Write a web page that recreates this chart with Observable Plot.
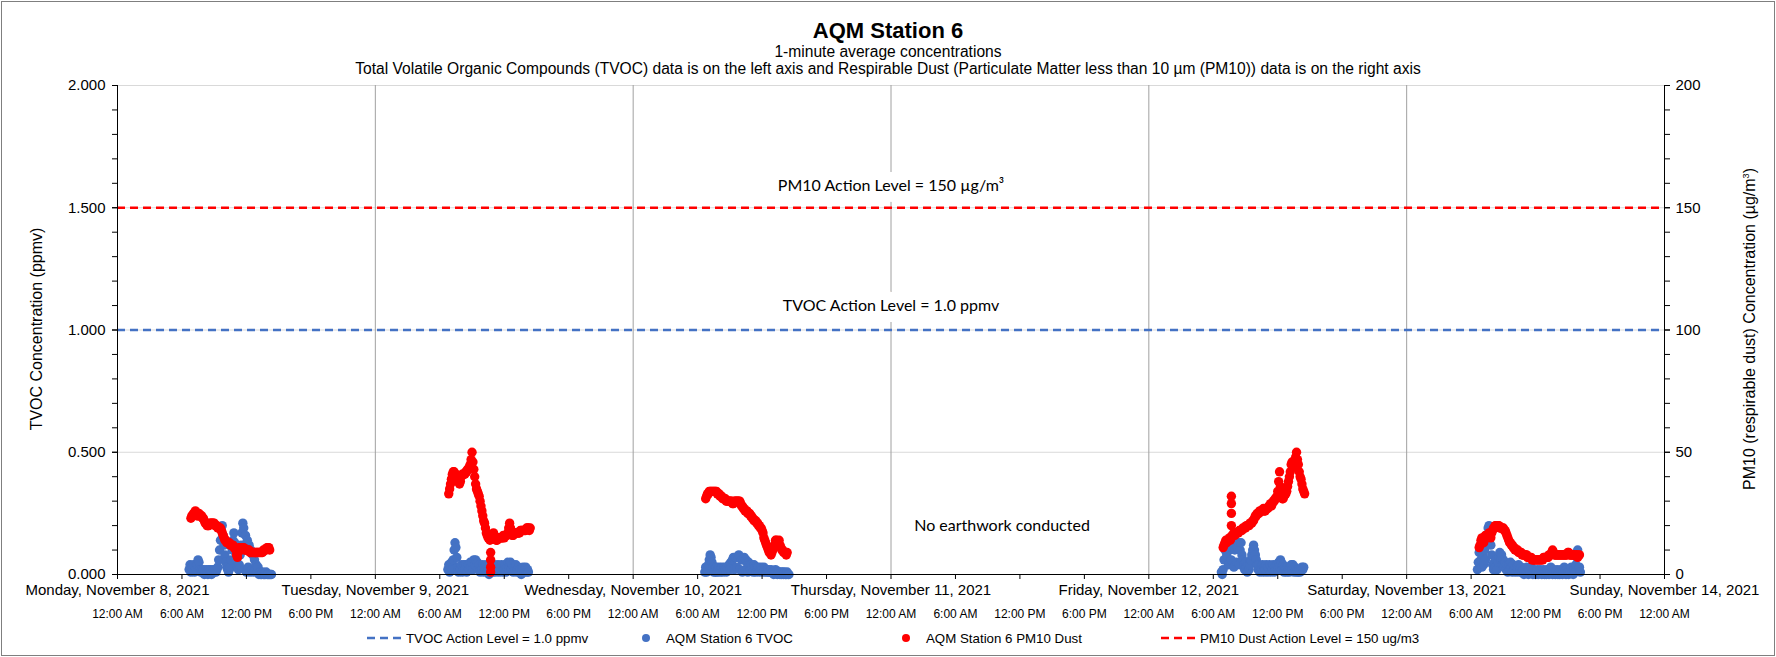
<!DOCTYPE html>
<html>
<head>
<meta charset="utf-8">
<script src="https://cdn.jsdelivr.net/npm/d3@7"></script>
<script src="https://cdn.jsdelivr.net/npm/@observablehq/plot@0.6"></script>
<style>
  html, body { margin: 0; padding: 0; background: #fff; }
  #wrap { position: relative; width: 1776px; height: 657px; overflow: hidden; font-family: "Liberation Sans", Arial, sans-serif; color: #000; }
  #frame { position: absolute; left: 1px; top: 1px; width: 1772px; height: 653px; border: 1px solid #7f7f7f; pointer-events: none; }
  #plot { position: absolute; left: 0; top: 0; }
  .title { position: absolute; left: 0; width: 1776px; text-align: center; white-space: nowrap; }
  #t1 { top: 19px; font-size: 22px; font-weight: bold; line-height: 24px; }
  #t2 { top: 43px; font-size: 15.6px; line-height: 18px; }
  #t3 { top: 60px; font-size: 15.6px; line-height: 18px; }
  .ytitle { position: absolute; white-space: nowrap; font-size: 16px; transform: translate(-50%, -50%) rotate(-90deg); }
  .leg { position: absolute; top: 630px; height: 16px; display: flex; align-items: center; font-size: 13.3px; white-space: nowrap; }
  .leg svg { display: block; }
</style>
</head>
<body>
<div id="wrap">
  <div id="plot"></div>
  <div class="title" id="t1">AQM Station 6</div>
  <div class="title" id="t2">1-minute average concentrations</div>
  <div class="title" id="t3">Total Volatile Organic Compounds (TVOC) data is on the left axis and Respirable Dust (Particulate Matter less than 10 µm (PM10)) data is on the right axis</div>
  <div class="ytitle" style="left:37px; top:329px;">TVOC Concentration (ppmv)</div>
  <div class="ytitle" style="left:1750px; top:329px;">PM10 (respirable dust) Concentration (µg/m<sup style="font-size:9px">3</sup>)</div>
  <div class="leg" style="left:366px;"><svg width="40" height="10"><line x1="1" x2="39" y1="5" y2="5" stroke="#4472c4" stroke-width="2.5" stroke-dasharray="8,5"/></svg><span>TVOC Action Level = 1.0 ppmv</span></div>
  <div class="leg" style="left:641px;"><svg width="25" height="10"><circle cx="5" cy="5" r="4" fill="#4472c4"/></svg><span>AQM Station 6 TVOC</span></div>
  <div class="leg" style="left:901px;"><svg width="25" height="10"><circle cx="5" cy="5" r="4" fill="#ff0000"/></svg><span>AQM Station 6 PM10 Dust</span></div>
  <div class="leg" style="left:1160px;"><svg width="40" height="10"><line x1="1" x2="39" y1="5" y2="5" stroke="#ff0000" stroke-width="2.5" stroke-dasharray="8,5"/></svg><span>PM10 Dust Action Level = 150 ug/m3</span></div>
  <div id="frame"></div>
</div>
<script>
// ---------------- data ----------------
const stepMinutes = 5;                       // sampling interval of the listed readings
const days = ["2021-11-08", "2021-11-09", "2021-11-10", "2021-11-12", "2021-11-13"];
const tvocStarts = ["06:40", "06:45", "06:40", "06:45", "06:35"];
const pm10Starts = ["06:50", "06:50", "06:45", "06:55", "06:45"];

// TVOC, ppmv
const tvocMon = [0.02,0.04,0.01,0.03,0.02,0.04,0.01,0.03,0.02,0.04,0.06,0.05,0.02,0.01,0.02,0.01,0.02,0.00,0.01,0.02,0.01,0.00,0.02,0.01,0.02,0.00,0.01,0.02,0.01,0.02,0.01,0.02,0.03,0.06,0.10,0.14,0.18,0.20,0.16,0.12,0.08,0.05,0.03,0.02,0.01,0.02,0.03,0.06,0.10,0.14,0.17,0.13,0.09,0.05,0.03,0.02,0.04,0.08,0.12,0.17,0.21,0.19,0.02,0.16,0.01,0.14,0.03,0.12,0.01,0.10,0.02,0.08,0.01,0.06,0.02,0.04,0.01,0.03,0.00,0.01,0.00,0.00,0.01,0.00,0.00,0.00,0.01,0.00,0.00,0.00,0.00,0.00,0.00];
const tvocTue = [0.02,0.04,0.01,0.03,0.05,0.02,0.06,0.10,0.13,0.11,0.07,0.03,0.01,0.03,0.02,0.04,0.01,0.03,0.04,0.02,0.04,0.01,0.03,0.04,0.02,0.05,0.03,0.05,0.02,0.06,0.04,0.06,0.03,0.05,0.02,0.04,0.01,0.03,0.02,0.04,0.01,0.03,0.02,0.04,0.01,0.02,0.00,0.02,0.01,0.03,0.01,0.02,0.04,0.01,0.03,0.02,0.04,0.01,0.03,0.02,0.04,0.01,0.03,0.02,0.04,0.01,0.03,0.05,0.02,0.04,0.05,0.02,0.04,0.01,0.03,0.02,0.04,0.01,0.02,0.03,0.01,0.02,0.00,0.02,0.03,0.01,0.02,0.03,0.01,0.02,0.01];
const tvocWed = [0.01,0.03,0.01,0.02,0.04,0.06,0.08,0.07,0.05,0.03,0.01,0.02,0.01,0.03,0.01,0.02,0.03,0.01,0.02,0.03,0.01,0.02,0.03,0.02,0.01,0.03,0.02,0.04,0.02,0.05,0.03,0.06,0.07,0.02,0.07,0.07,0.03,0.07,0.08,0.02,0.07,0.06,0.01,0.06,0.07,0.02,0.06,0.05,0.01,0.05,0.04,0.02,0.04,0.03,0.01,0.04,0.03,0.01,0.03,0.02,0.03,0.01,0.02,0.03,0.02,0.01,0.03,0.02,0.01,0.02,0.01,0.02,0.01,0.01,0.02,0.01,0.01,0.00,0.01,0.02,0.01,0.00,0.01,0.01,0.00,0.01,0.00,0.01,0.00,0.01,0.00,0.00,0.01,0.00,0.00];
const tvocFri = [0.01,0.00,0.02,0.06,0.10,0.12,0.08,0.12,0.04,0.10,0.12,0.06,0.11,0.13,0.03,0.10,0.12,0.05,0.11,0.13,0.04,0.10,0.13,0.08,0.06,0.04,0.02,0.05,0.03,0.01,0.04,0.02,0.04,0.06,0.08,0.10,0.12,0.10,0.08,0.06,0.04,0.02,0.04,0.01,0.03,0.02,0.04,0.01,0.03,0.02,0.04,0.01,0.03,0.02,0.04,0.01,0.03,0.02,0.04,0.01,0.03,0.02,0.04,0.02,0.05,0.03,0.06,0.05,0.02,0.04,0.01,0.03,0.02,0.01,0.03,0.02,0.01,0.03,0.04,0.02,0.04,0.01,0.03,0.02,0.01,0.02,0.01,0.02,0.01,0.02,0.03,0.02,0.03];
const tvocSat = [0.02,0.05,0.09,0.10,0.06,0.03,0.08,0.04,0.10,0.06,0.13,0.16,0.19,0.20,0.17,0.12,0.08,0.04,0.02,0.05,0.03,0.06,0.02,0.05,0.07,0.09,0.06,0.08,0.04,0.06,0.03,0.05,0.02,0.04,0.01,0.04,0.02,0.05,0.03,0.01,0.04,0.02,0.03,0.01,0.03,0.02,0.04,0.01,0.02,0.03,0.01,0.02,0.00,0.02,0.01,0.03,0.01,0.00,0.02,0.01,0.03,0.01,0.00,0.02,0.01,0.00,0.01,0.02,0.00,0.01,0.02,0.01,0.00,0.01,0.02,0.00,0.01,0.00,0.02,0.01,0.00,0.01,0.03,0.01,0.00,0.02,0.01,0.00,0.01,0.02,0.00,0.01,0.00,0.02,0.01,0.00,0.01,0.03,0.01,0.00,0.02,0.01,0.00,0.02,0.01,0.03,0.01,0.00,0.02,0.01,0.04,0.07,0.10,0.08,0.03,0.01];

// PM10, µg/m³
const pm10Mon = [23,24,24,25,25,26,25,24,24,25,24,24,24,23,23,22,21,21,20,20,20,21,21,21,21,21,21,20,20,20,19,19,19,19,18,17,16,15,14,14,13,13,13,13,12,12,12,12,11,11,10,8,7,9,11,11,11,11,11,11,10,10,10,10,10,10,9,9,9,9,9,9,9,9,9,9,9,9,9,9,9,10,10,10,10,11,11,11,10];
const pm10Tue = [33,35,37,39,41,42,42,41,41,40,39,38,37,38,40,41,41,41,41,42,42,43,43,44,45,47,50,46,43,40,37,35,34,33,32,30,28,26,24,22,21,19,17,16,15,15,14,15,15,16,17,16,15,14,14,15,15,15,15,15,15,16,15,16,16,16,17,19,21,19,17,16,16,17,17,17,17,17,17,17,18,18,18,18,18,18,18,19,19,19,18,19];
const pm10Wed = [31,32,33,33,34,34,34,34,34,34,34,34,34,33,33,33,32,32,32,31,31,31,31,30,30,30,30,30,30,30,29,29,30,30,30,30,30,30,30,29,28,28,27,27,26,26,26,25,25,25,24,24,23,23,22,22,22,21,21,20,20,19,19,18,17,15,14,13,12,11,10,9,9,8,9,10,11,12,14,14,13,13,14,12,11,10,10,9,9,9,8,9];
const pm10Fri = [11,12,13,14,13,14,14,15,14,15,16,16,17,16,17,17,17,17,18,18,18,18,19,19,19,19,20,20,20,20,21,21,21,22,22,23,24,24,25,25,25,26,26,26,26,27,26,26,27,27,27,28,28,29,28,29,30,30,31,31,32,34,38,42,36,32,31,31,32,33,33,34,36,38,40,42,45,46,44,44,46,48,50,47,45,42,40,39,37,35,34,33];
const pm10Sat = [11,12,14,15,14,13,15,16,16,15,16,17,16,15,17,18,19,19,20,20,20,20,20,19,19,19,19,19,18,18,17,16,15,14,13,13,12,12,11,11,10,10,10,10,9,9,9,9,8,8,8,8,8,8,7,7,7,7,7,6,6,6,6,6,6,6,6,6,6,6,6,6,7,7,7,7,7,7,8,8,8,9,10,9,8,8,8,8,8,8,8,8,8,8,8,8,8,8,8,9,9,8,8,8,8,8,8,8,8,8,7,8,8];
// isolated PM10 readings
const pm10Isolated = [["2021-11-09T10:44", 9], ["2021-11-09T10:44", 6], ["2021-11-09T10:44", 3], ["2021-11-09T10:44", 1],
                      ["2021-11-12T07:41", 32], ["2021-11-12T07:41", 29], ["2021-11-12T07:41", 25], ["2021-11-12T07:41", 20]];

const tvocActionLevel = 1.0;     // ppmv
const pm10ActionLevel = 150;     // µg/m³
const pm10PerTvocUnit = 100;     // right axis 0–200 vs left axis 0–2
const leftMajorTicks = [0, 0.5, 1.0, 1.5, 2.0];
const xStart = "2021-11-08T00:00";
const xEnd = "2021-11-14T00:00";
const noWorkDay = "2021-11-11T10:20";
const noWorkLevel = 0.2;

// ---------------- build ----------------
const asDate = s => new Date(s + ":00Z");
function rows(day, start, values) {
  const t0 = asDate(`${day}T${start}`);
  return values.map((v, i) => ({t: new Date(+t0 + i * stepMinutes * 60000), v}));
}
const tvocSeries = [tvocMon, tvocTue, tvocWed, tvocFri, tvocSat];
const pm10Series = [pm10Mon, pm10Tue, pm10Wed, pm10Fri, pm10Sat];
const tvocRows = tvocSeries.flatMap((vals, i) => rows(days[i], tvocStarts[i], vals));
const pm10Rows = pm10Series.flatMap((vals, i) => rows(days[i], pm10Starts[i], vals))
  .concat(pm10Isolated.map(([s, v]) => ({t: asDate(s), v})));

const x0 = asDate(xStart), x1 = asDate(xEnd);
const midnights = d3.utcDay.range(x0, new Date(+x1 + 1));
const sixHours = d3.utcHour.every(6).range(x0, new Date(+x1 + 1));
const minorTicks = d3.range(0, 2.0001, 0.1);
const thursday = midnights[3];

const font = "Liberation Sans, Arial, sans-serif";
const calibri = "Lato, Carlito, Calibri, sans-serif";

const chart = Plot.plot({
  width: 1776,
  height: 657,
  marginLeft: 117,
  marginRight: 112,
  marginTop: 85,
  marginBottom: 83,
  x: {type: "utc", domain: [x0, x1]},
  y: {domain: [0, 2]},
  style: {fontFamily: font, fontSize: "15px", color: "#000", background: "transparent", overflow: "visible"},
  marks: [
    Plot.ruleY(leftMajorTicks.slice(1), {stroke: "#d9d9d9", strokeWidth: 1}),
    Plot.ruleX(midnights.slice(1, -1), {stroke: "#a0a0a0", strokeWidth: 1}),
    Plot.ruleY([tvocActionLevel], {stroke: "#4472c4", strokeWidth: 2.5, strokeDasharray: "8,5"}),
    Plot.dot(tvocRows, {x: "t", y: "v", r: 4.7, fill: "#4472c4"}),
    Plot.dot(pm10Rows, {x: "t", y: d => d.v / pm10PerTvocUnit, r: 4.7, fill: "#ff0000"}),
    Plot.ruleY([pm10ActionLevel / pm10PerTvocUnit], {stroke: "#ff0000", strokeWidth: 2.5, strokeDasharray: "8,5"}),
    // axis lines
    Plot.ruleX([x0, x1], {stroke: "#000", strokeWidth: 1}),
    Plot.ruleY([0], {stroke: "#000", strokeWidth: 1}),
    // annotations
    Plot.text([pm10ActionLevel / pm10PerTvocUnit], {x: () => thursday, y: d => d, dy: -22, text: () => "PM10 Action Level = 150 µg/m³",
      fontFamily: calibri, fontSize: 16, fill: "#000", stroke: "#fff", strokeWidth: 22}),
    Plot.text([tvocActionLevel], {x: () => thursday, y: d => d, dy: -24, text: () => "TVOC Action Level = 1.0 ppmv",
      fontFamily: calibri, fontSize: 16, fill: "#000", stroke: "#fff", strokeWidth: 22}),
    Plot.text([noWorkLevel], {x: () => asDate(noWorkDay), y: d => d, text: () => "No earthwork conducted",
      fontFamily: calibri, fontSize: 16, fill: "#000"}),
    // left axis
    Plot.axisY({anchor: "left", ticks: leftMajorTicks, tickFormat: d3.format(".3f"), tickSize: 5, tickPadding: 7, label: null, fontSize: 15}),
    Plot.axisY({anchor: "left", ticks: minorTicks, tickFormat: () => "", tickSize: 5, label: null}),
    // right axis (PM10 units)
    Plot.axisY({anchor: "right", ticks: leftMajorTicks, tickFormat: d => String(Math.round(d * pm10PerTvocUnit)), tickSize: 5, tickPadding: 6, label: null, fontSize: 15}),
    Plot.axisY({anchor: "right", ticks: minorTicks, tickFormat: () => "", tickSize: 5, label: null}),
    // bottom axis: time of day and dates
    Plot.axisX({ticks: sixHours, tickFormat: d3.utcFormat("%-I:%M %p"), tickSize: 5, tickPadding: 30, label: null, fontSize: 12}),
    Plot.axisX({ticks: midnights, tickFormat: d3.utcFormat("%A, %B %-d, %Y"), tickSize: 0, tickPadding: 10, label: null, fontSize: 15})
  ]
});
document.getElementById("plot").appendChild(chart);
</script>
</body>
</html>
